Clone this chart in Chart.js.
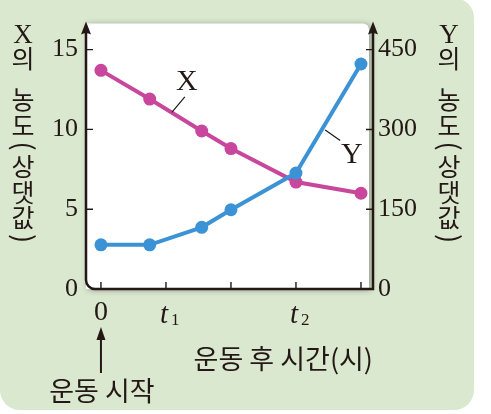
<!DOCTYPE html>
<html><head><meta charset="utf-8">
<script src="https://cdn.jsdelivr.net/npm/chart.js@4/dist/chart.umd.min.js"></script>
<style>html,body{margin:0;padding:0;background:#fff;}#wrap{width:491px;height:414px;}</style>
</head><body><div id="wrap"><canvas id="c" width="491" height="414"></canvas></div>
<script>
// ---- data ----
const times = [0, 0.75, 1.55, 2, 3, 4];
const xConc = [13.7, 11.9, 9.9, 8.8, 6.7, 6.0];   // X (left axis)
const yConc = [83, 83, 116, 149, 218, 423];       // Y (right axis)
const xTickValues = [0, 1, 2, 3, 4];
const xTickLabels = ['0', 't1', '', 't2', ''];
const leftTicks = [0, 5, 10, 15];
const rightTicks = [0, 150, 300, 450];
const leftTitle = 'X의 농도(상댓값)';
const rightTitle = 'Y의 농도(상댓값)';
const xTitle = '운동 후 시간(시)';
const startNote = '운동 시작';
const seriesNames = ['X', 'Y'];

const MAG = '#c8469b', BLUE = '#3b93d5', INK = '#231815', GREEN = '#dbe8d0';
const SERIF = '"Liberation Serif", "Times New Roman", serif';
const KR = '"Noto Sans CJK KR", "Noto Sans", sans-serif';

function drawVertical(ctx, text, cx, startY) {
  let y = startY;
  for (const ch of text) {
    let adv;
    if (ch === ' ') { y += 16; continue; }
    if (ch === '(' || ch === ')') adv = 16;
    else if (/[A-Za-z]/.test(ch)) adv = 21;
    else adv = 25.5;
    const cy = y + adv / 2;
    ctx.save();
    ctx.translate(cx, cy);
    ctx.textAlign = 'center';
    ctx.textBaseline = 'middle';
    ctx.fillStyle = INK;
    if (/[A-Za-z]/.test(ch)) {
      ctx.font = '27px ' + SERIF;
      ctx.fillText(ch, 0, 1);
    } else if (ch === '(' || ch === ')') {
      ctx.rotate(Math.PI / 2);
      ctx.font = '27px ' + KR;
      ctx.fillText(ch, 0, -1);
    } else {
      ctx.font = '25px ' + KR;
      ctx.fillText(ch, 0, 0);
    }
    ctx.restore();
    y += adv;
  }
}

const decor = {
  id: 'decor',
  beforeDraw(chart) {
    const ctx = chart.ctx;
    const {left, top, right, bottom} = chart.chartArea;
    ctx.save();
    ctx.fillStyle = '#ffffff';
    ctx.fillRect(0, 0, chart.width, chart.height);
    ctx.fillStyle = GREEN;
    ctx.beginPath();
    ctx.roundRect(0, -2, 474, 412, [0, 20, 20, 20]);
    ctx.fill();
    ctx.shadowColor = 'rgba(0,0,0,0.35)';
    ctx.shadowBlur = 6;
    ctx.shadowOffsetX = 2;
    ctx.shadowOffsetY = 1;
    ctx.fillStyle = '#ffffff';
    ctx.beginPath();
    ctx.roundRect(left, top, right - left - 4, bottom - top, [0, 6, 0, 0]);
    ctx.fill();
    ctx.restore();
  },
  afterDraw(chart) {
    const ctx = chart.ctx;
    const {left, top, right, bottom} = chart.chartArea;
    const xs = chart.scales.x, yl = chart.scales.y, yr = chart.scales.y2;
    ctx.save();
    // axes
    ctx.strokeStyle = INK;
    ctx.lineWidth = 2.5;
    const r = 9;
    ctx.beginPath();
    ctx.moveTo(left, top + 8);
    ctx.lineTo(left, bottom - r);
    ctx.arcTo(left, bottom, left + r, bottom, r);
    ctx.lineTo(right, bottom);
    ctx.lineTo(right, top + 8);
    ctx.stroke();
    // arrowheads
    ctx.fillStyle = INK;
    for (const ax of [left, right]) {
      ctx.beginPath();
      ctx.moveTo(ax, top - 2);
      ctx.lineTo(ax + 5, top + 11);
      ctx.quadraticCurveTo(ax, top + 8, ax - 5, top + 11);
      ctx.closePath();
      ctx.fill();
    }
    // tick marks
    ctx.lineWidth = 1.4;
    ctx.beginPath();
    for (const v of leftTicks) {
      if (v === 0) continue;
      const p = yl.getPixelForValue(v);
      ctx.moveTo(left, p); ctx.lineTo(left + 7, p);
    }
    for (const v of rightTicks) {
      if (v === 0) continue;
      const p = yr.getPixelForValue(v);
      ctx.moveTo(right, p); ctx.lineTo(right - 7, p);
    }
    for (const v of xTickValues) {
      const p = xs.getPixelForValue(v);
      ctx.moveTo(p, bottom); ctx.lineTo(p, bottom - 7);
    }
    ctx.stroke();
    // x tick labels
    ctx.fillStyle = INK;
    ctx.textBaseline = 'alphabetic';
    xTickValues.forEach((v, i) => {
      const lab = xTickLabels[i];
      if (!lab) return;
      const p = xs.getPixelForValue(v);
      if (/^[0-9]+$/.test(lab)) {
        ctx.font = '28px ' + SERIF;
        ctx.textAlign = 'center';
        ctx.fillText(lab, p, 320);
      } else {
        ctx.font = 'italic 29px ' + SERIF;
        ctx.textAlign = 'center';
        ctx.fillText(lab[0], p - 2, 323);
        ctx.font = '17px ' + SERIF;
        ctx.textAlign = 'left';
        ctx.fillText(lab.slice(1), p + 5, 325);
      }
    });
    // vertical axis titles
    drawVertical(ctx, leftTitle, 23, 24.5);
    drawVertical(ctx, rightTitle, 449, 24.5);
    // x title
    ctx.font = '27px ' + KR;
    ctx.textAlign = 'right';
    ctx.textBaseline = 'middle';
    ctx.fillText(xTitle, right, 359);
    // exercise start arrow + note
    const x0 = xs.getPixelForValue(0);
    ctx.lineWidth = 2;
    ctx.beginPath();
    ctx.moveTo(x0, 373); ctx.lineTo(x0, 336);
    ctx.stroke();
    ctx.beginPath();
    ctx.moveTo(x0, 327);
    ctx.lineTo(x0 + 4.5, 340);
    ctx.lineTo(x0 - 4.5, 340);
    ctx.closePath();
    ctx.fill();
    ctx.font = '27px ' + KR;
    ctx.textAlign = 'center';
    ctx.fillText(startNote, x0 + 1, 391);
    // series labels with leader lines
    ctx.font = '30px ' + SERIF;
    ctx.textAlign = 'center';
    ctx.textBaseline = 'middle';
    ctx.fillText(seriesNames[0], xs.getPixelForValue(1.32), yl.getPixelForValue(13.0) + 1);
    ctx.fillText(seriesNames[1], xs.getPixelForValue(3.86), yr.getPixelForValue(254) + 1);
    ctx.lineWidth = 1.2;
    ctx.beginPath();
    ctx.moveTo(xs.getPixelForValue(1.29), yl.getPixelForValue(12.04));
    ctx.lineTo(xs.getPixelForValue(1.09), yl.getPixelForValue(11.07));
    ctx.moveTo(xs.getPixelForValue(3.45), yr.getPixelForValue(299));
    ctx.lineTo(xs.getPixelForValue(3.68), yr.getPixelForValue(279));
    ctx.stroke();
    ctx.restore();
  }
};

new Chart(document.getElementById('c'), {
  type: 'line',
  data: {
    datasets: [
      {
        label: seriesNames[0],
        data: times.map((t, i) => ({x: t, y: xConc[i]})),
        yAxisID: 'y',
        borderColor: MAG, backgroundColor: MAG,
        pointBackgroundColor: MAG, pointBorderWidth: 0,
        pointRadius: 6.5, borderWidth: 4, tension: 0, order: 1
      },
      {
        label: seriesNames[1],
        data: times.map((t, i) => ({x: t, y: yConc[i]})),
        yAxisID: 'y2',
        borderColor: BLUE, backgroundColor: BLUE,
        pointBackgroundColor: BLUE, pointBorderWidth: 0,
        pointRadius: 6.5, borderWidth: 4, tension: 0, order: 0
      }
    ]
  },
  options: {
    responsive: false,
    animation: false,
    devicePixelRatio: 1,
    layout: {padding: {top: 14, left: 0, right: 0, bottom: 0}},
    plugins: {legend: {display: false}, tooltip: {enabled: false}},
    scales: {
      x: {
        type: 'linear', min: -0.23, max: 4.185,
        grid: {display: false, drawTicks: false}, border: {display: false},
        ticks: {display: false},
        afterFit(s) { s.height = 125; }
      },
      y: {
        position: 'left', min: 0, max: 16.63,
        grid: {display: false, drawTicks: false}, border: {display: false},
        ticks: {padding: 8, color: INK, font: {family: SERIF, size: 26}},
        afterBuildTicks(s) { s.ticks = leftTicks.map(v => ({value: v})); },
        afterFit(s) { s.width = 86; }
      },
      y2: {
        position: 'right', min: 0, max: 499,
        grid: {display: false, drawTicks: false}, border: {display: false},
        ticks: {padding: 5, color: INK, font: {family: SERIF, size: 26}},
        afterBuildTicks(s) { s.ticks = rightTicks.map(v => ({value: v})); },
        afterFit(s) { s.width = 118; }
      }
    }
  },
  plugins: [decor]
});
</script>
</body></html>
